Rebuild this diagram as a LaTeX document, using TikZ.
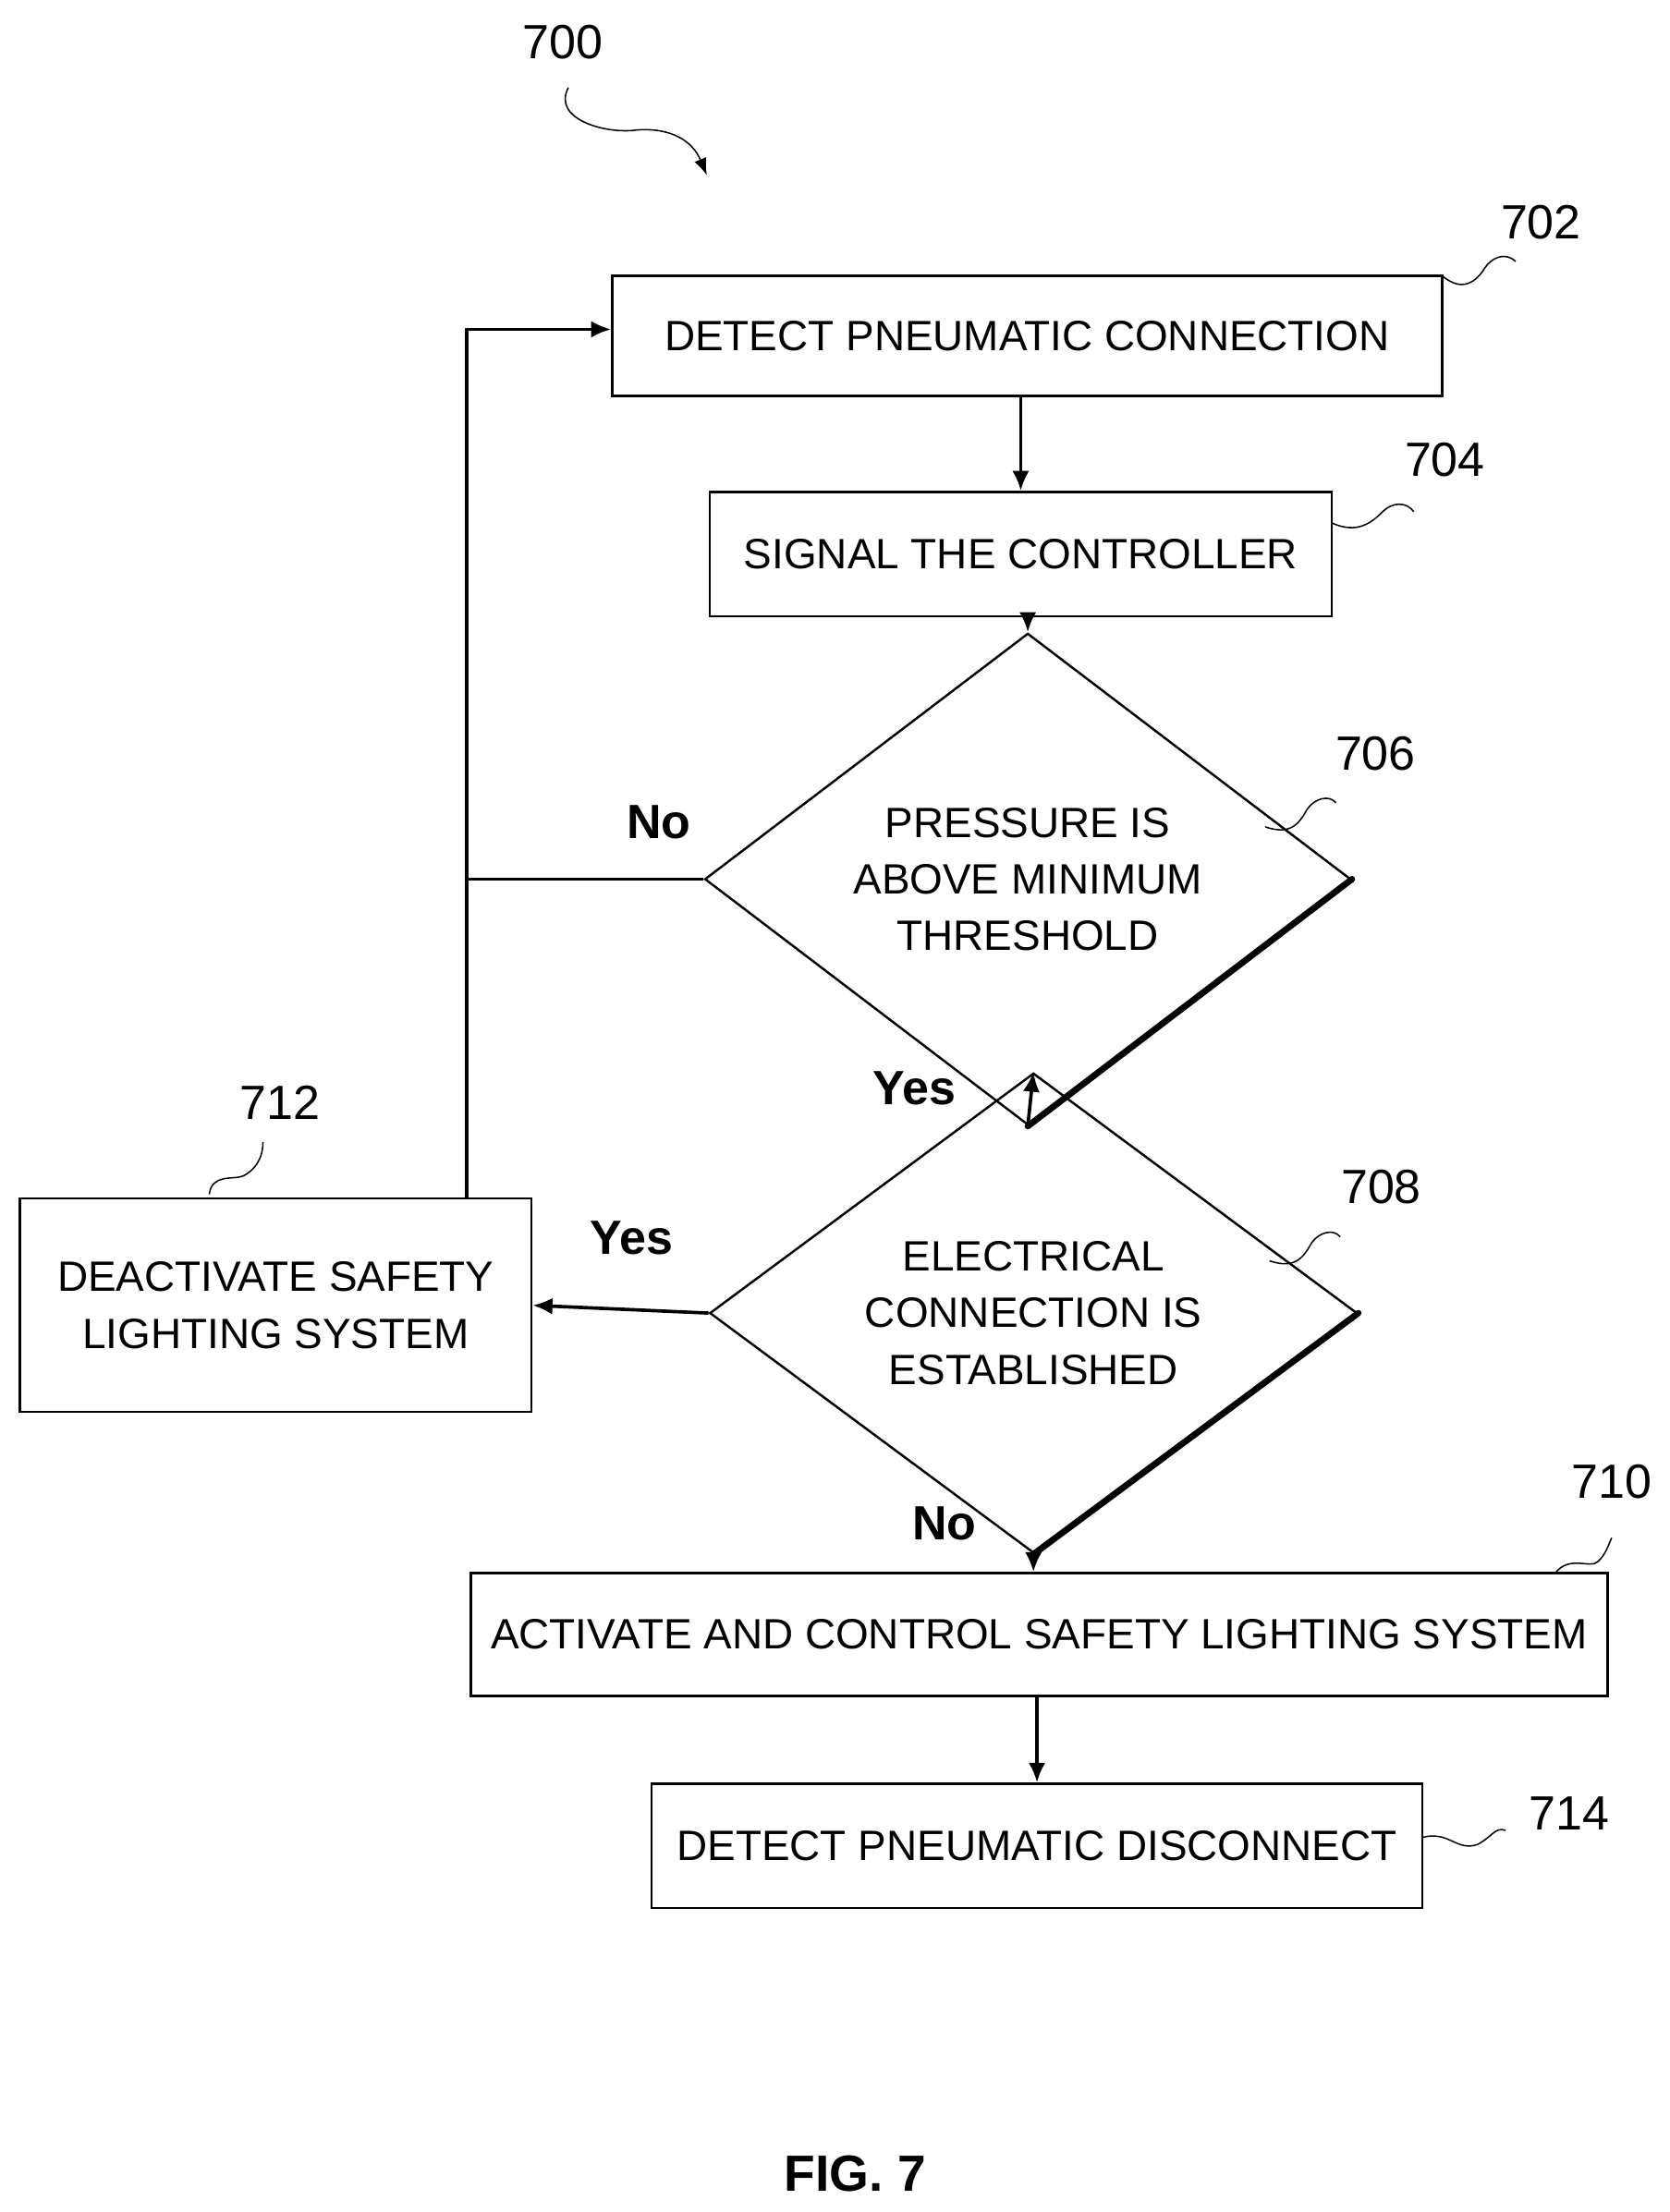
\documentclass[tikz,border=0pt]{standalone}
\usepackage{fontspec}
\setmainfont{Liberation Sans}
\usetikzlibrary{shapes.geometric,arrows.meta}
\begin{document}
\begin{tikzpicture}[x=1pt,y=-1pt,
  box/.style={draw,line width=1.6pt,inner sep=0,font=\fontsize{30}{36}\selectfont},
  dia/.style={draw,diamond,line width=1.6pt,inner sep=0,align=center,font=\fontsize{30}{40}\selectfont},
  lbl/.style={font=\fontsize{34}{40}\selectfont},
  yn/.style={font=\bfseries\fontsize{34}{40}\selectfont},
  arr/.style={line width=2.4pt,-{Latex[length=14pt,width=12pt]}},
  sq/.style={line width=1pt}]
\useasboundingbox (0,0) rectangle (1181,1565);
\node[box,minimum width=587,minimum height=85] (b702) at (726.5,237.5) {DETECT PNEUMATIC CONNECTION};
\node[box,minimum width=440,minimum height=88] (b704) at (722,392) {SIGNAL THE CONTROLLER};
\node[dia,minimum width=457,minimum height=249] (d706) at (727,622) {PRESSURE IS\\ABOVE MINIMUM\\THRESHOLD};
\node[dia,minimum width=458,minimum height=252] (d708) at (731,929) {ELECTRICAL\\CONNECTION IS\\ESTABLISHED};
\node[box,minimum width=362,minimum height=151,align=center,font=\fontsize{30}{40}\selectfont] (b712) at (195,923.5) {DEACTIVATE SAFETY\\LIGHTING SYSTEM};
\node[box,minimum width=804,minimum height=87] (b710) at (735,1156.5) {ACTIVATE AND CONTROL SAFETY LIGHTING SYSTEM};
\node[box,minimum width=545,minimum height=88] (b714) at (733.5,1306) {DETECT PNEUMATIC DISCONNECT};
\draw[line width=4.5pt,line cap=round] (d706.east) -- (d706.south);
\draw[line width=4.5pt,line cap=round] (d708.east) -- (d708.south);
% labels
\node[lbl] (l700) at (398,30) {700};
\node[lbl] (l702) at (1090,157) {702};
\node[lbl] (l704) at (1022,325) {704};
\node[lbl] (l706) at (973,533) {706};
\node[lbl] (l708) at (977,840) {708};
\node[lbl] (l712) at (198,780) {712};
\node[lbl] (l710) at (1140,1048) {710};
\node[lbl] (l714) at (1110,1283) {714};
\node[font=\bfseries\fontsize{36}{40}\selectfont] (fig) at (605,1538) {FIG. 7};
\node[yn] (no1) at (466,582) {No};
\node[yn] (yes1) at (647,770) {Yes};
\node[yn] (yes2) at (447,876) {Yes};
\node[yn] (no2) at (668,1078) {No};
% squiggles
\draw[sq,-{Latex[length=12pt,width=9pt]}] (402,62) .. controls (390,85) and (430,95) .. (450,92) .. controls (475,90) and (490,100) .. (500,124);
\draw[sq] (1020,195) .. controls (1035,208) and (1045,198) .. (1050,190) .. controls (1055,182) and (1065,178) .. (1072,185);
\draw[sq] (942,370) .. controls (960,378) and (970,370) .. (978,362) .. controls (985,355) and (995,355) .. (1000,362);
\draw[sq] (895,585) .. controls (915,592) and (920,580) .. (925,572) .. controls (930,565) and (940,562) .. (945,568);
\draw[sq] (898,892) .. controls (918,899) and (923,887) .. (928,879) .. controls (933,872) and (943,869) .. (948,875);
\draw[sq] (148,845) .. controls (150,830) and (165,835) .. (172,832) .. controls (180,828) and (186,820) .. (186,808);
\draw[sq] (1100,1113) .. controls (1110,1100) and (1125,1110) .. (1130,1105) .. controls (1136,1100) and (1138,1092) .. (1140,1088);
\draw[sq] (1006,1300) .. controls (1025,1295) and (1030,1310) .. (1045,1305) .. controls (1055,1300) and (1058,1292) .. (1065,1295);
% connectors
\draw[arr] (b702.south -| b704) -- (b704.north);
\draw[arr] (b704.south -| d706) -- (d706.north);
\draw[arr] (d706.south) -- (d708.north);
\draw[arr] (d708.south) -- (d708.south |- b710.north);
\draw[arr] (b710.south -| b714) -- (b714.north);
\draw[arr] (d708.west) -- (b712.east);
\coordinate (c1) at (330,622);
\coordinate (c2) at (330,233);
\draw[line width=2.4pt] (d706.west) -- (c1);
\draw[arr] (b712.north -| c1) -- (c2) -- (b702.west |- c2);
\end{tikzpicture}
\end{document}
